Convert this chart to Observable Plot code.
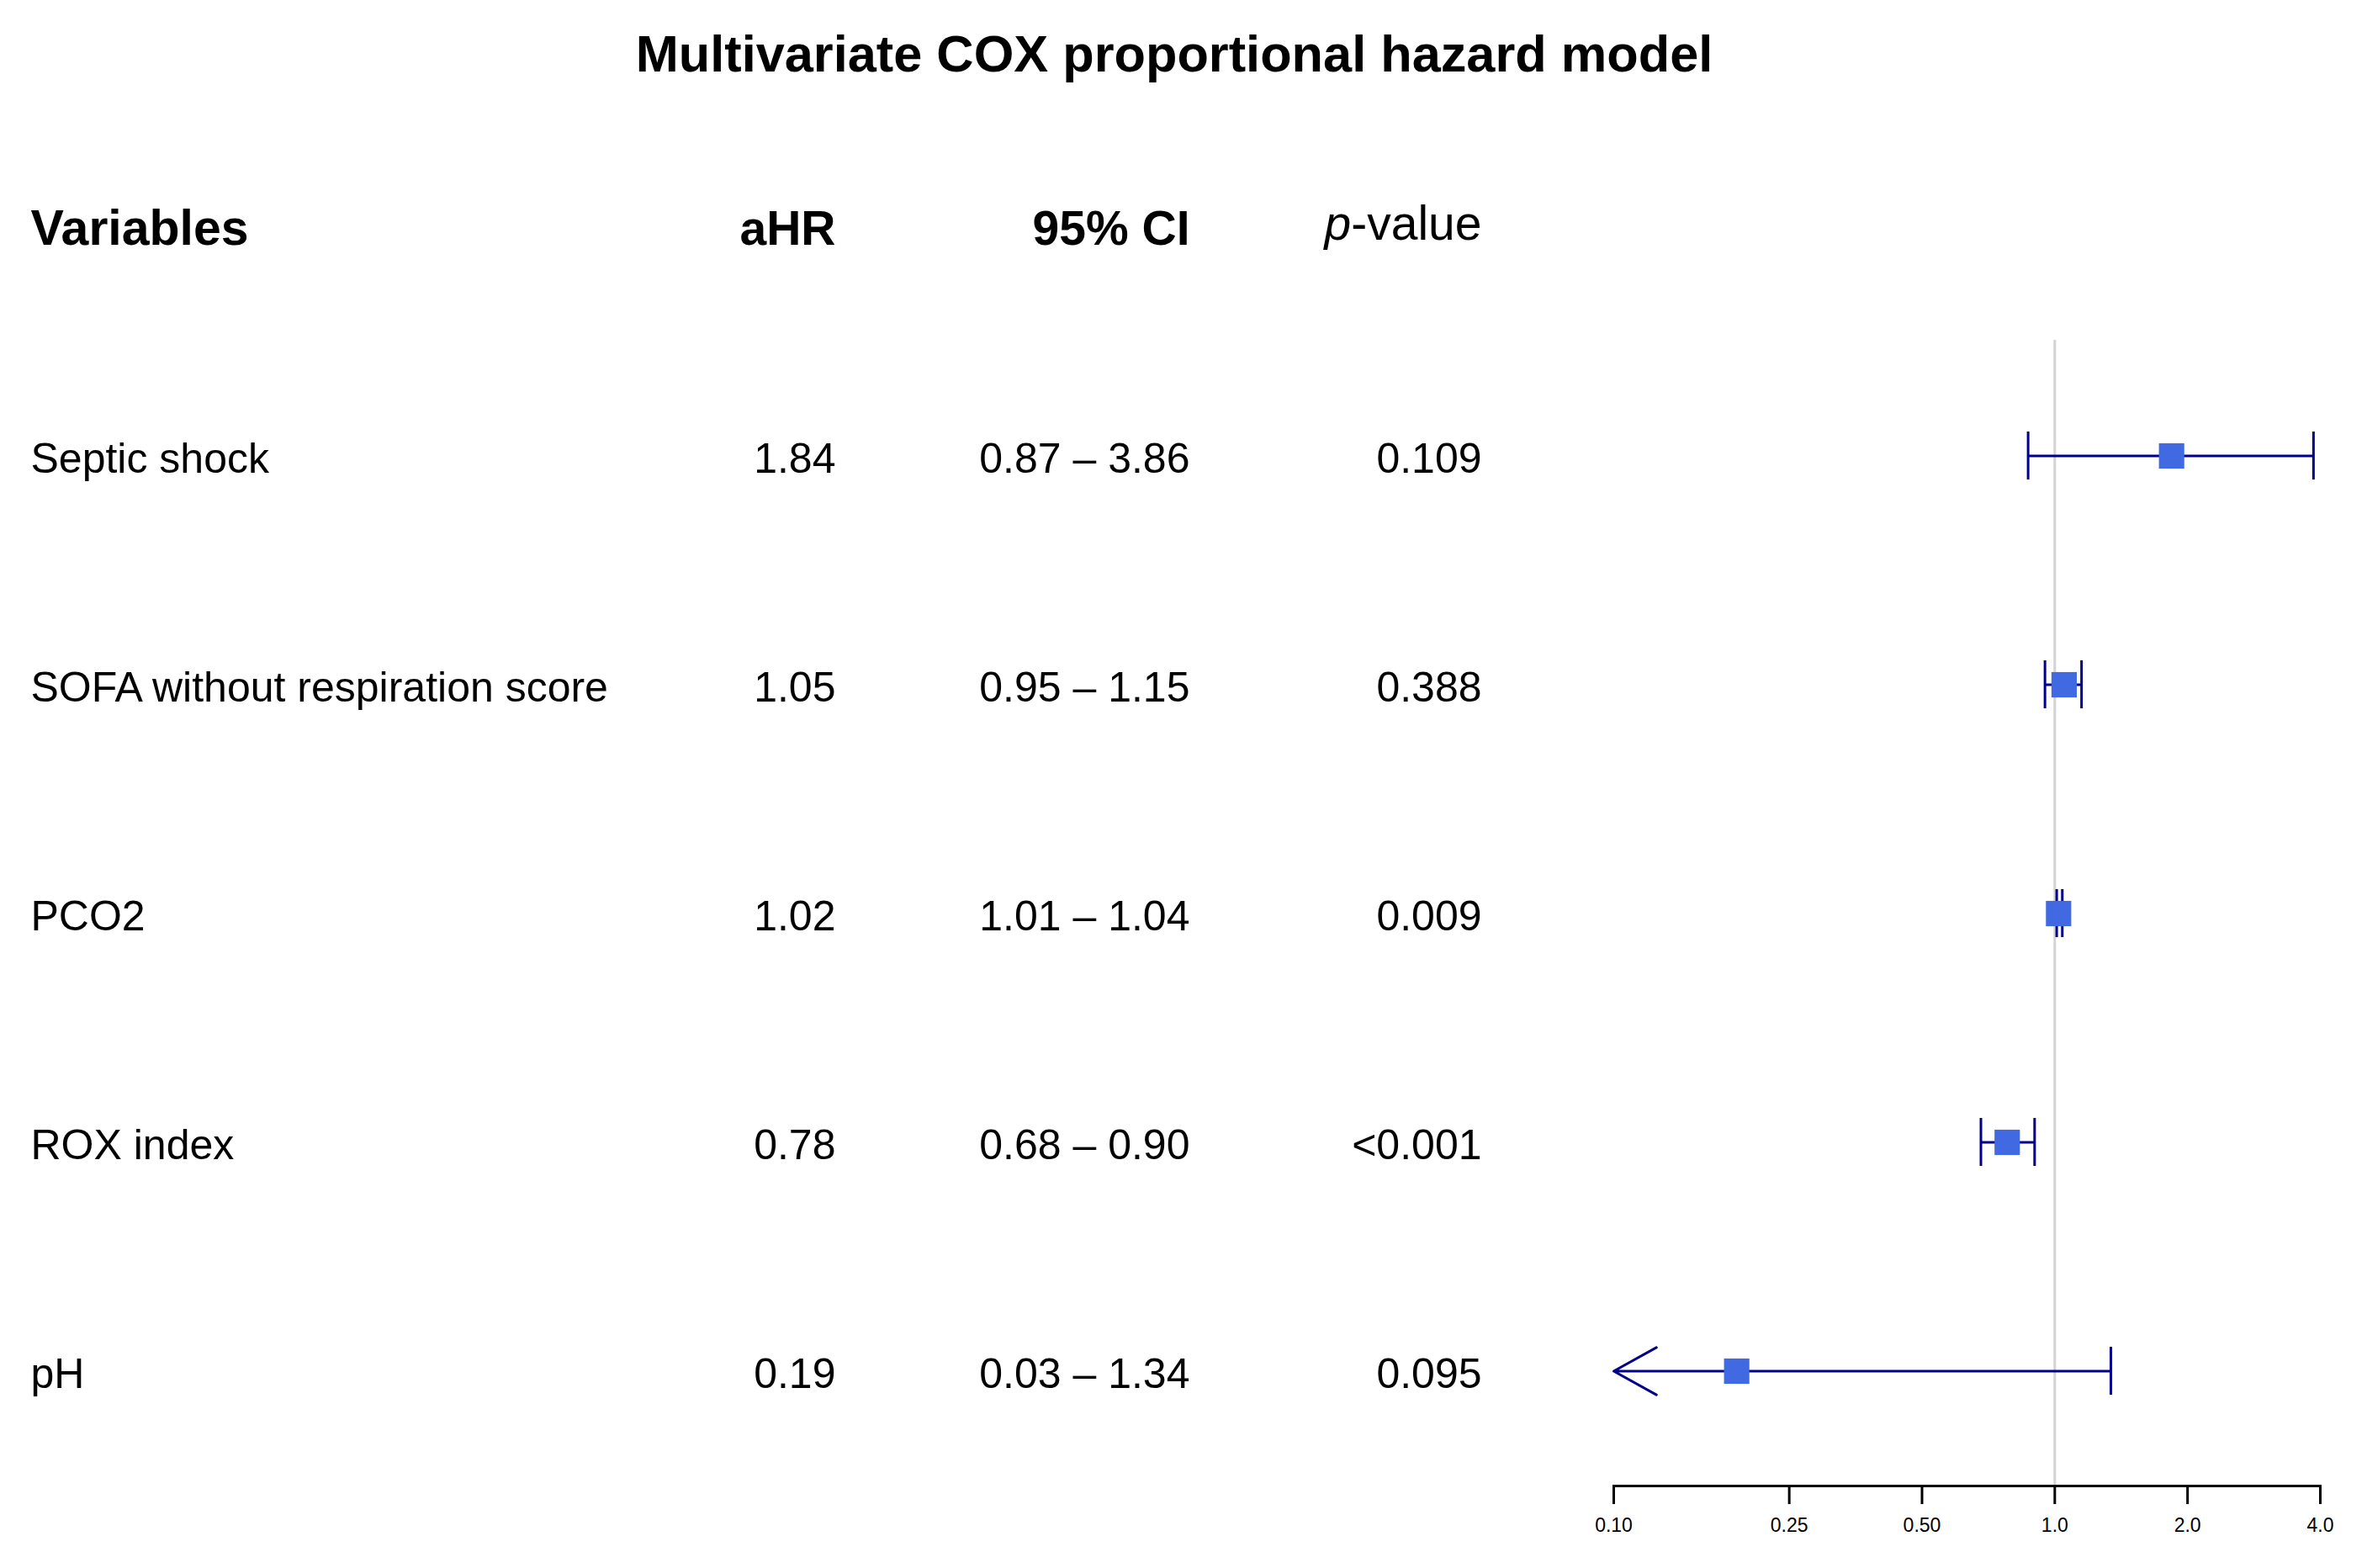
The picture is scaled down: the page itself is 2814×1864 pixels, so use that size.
<!DOCTYPE html>
<html>
<head>
<meta charset="utf-8">
<script src="https://cdn.jsdelivr.net/npm/d3@7"></script>
<script src="https://cdn.jsdelivr.net/npm/@observablehq/plot@0.6"></script>
<style>
  html, body { margin: 0; padding: 0; background: #ffffff; }
  #wrap { width: 2814px; }
  #title {
    height: 130px; line-height: 129px; text-align: center; padding-right: 22px; box-sizing: border-box;
    font-family: "Liberation Sans", Arial, sans-serif; font-weight: bold; font-size: 61.3px; color: #000;
  }
  #chart svg { display: block; }
</style>
</head>
<body>
<div id="wrap">
  <div id="title">Multivariate COX proportional hazard model</div>
  <div id="chart"></div>
</div>
<script>
// ---- data ----
const variables = ["Septic shock", "SOFA without respiration score", "PCO2", "ROX index", "pH"];
const ahr = [1.84, 1.05, 1.02, 0.78, 0.19];
const ciLow = [0.87, 0.95, 1.01, 0.68, 0.03];
const ciHigh = [3.86, 1.15, 1.04, 0.90, 1.34];
const pValues = ["0.109", "0.388", "0.009", "<0.001", "0.095"];
const headers = ["Variables", "aHR", "95% CI", "p-value"];
const tickValues = [0.1, 0.25, 0.5, 1, 2, 4];
const tickLabels = ["0.10", "0.25", "0.50", "1.0", "2.0", "4.0"];
const xDomain = [0.1, 4];

// ---- table built from arrays ----
const rows = variables.map((v, i) => ({
  variable: v, hr: ahr[i], lo: ciLow[i], hi: ciHigh[i], p: pValues[i]
}));
const fmt = d3.format(".2f");
const xMin = xDomain[0];

// ---- layout (pixels) ----
const W = 2814, H = 1734;
const mLeft = 1918, mRight = 56, mTop = 274, mBottom = 98;
const colVar = 36 - mLeft, colHR = 993 - mLeft, colCI = 1414 - mLeft, colP = 1761 - mLeft;
const rowFont = 50, headFont = 57;
const dark = "#00008B", box = "#4169E1";

const chart = Plot.plot({
  width: W, height: H,
  marginLeft: mLeft, marginRight: mRight, marginTop: mTop, marginBottom: mBottom,
  style: {fontFamily: "'Liberation Sans', Arial, sans-serif", background: "#ffffff", color: "#000", overflow: "visible"},
  x: {type: "log", domain: xDomain, axis: null},
  y: {type: "band", domain: variables, paddingInner: 0.791, paddingOuter: 0.3954, align: 0.5, axis: null},
  marks: [
    // reference line at HR = 1
    Plot.ruleX([1], {stroke: "#d3d3d3", strokeWidth: 3}),
    // axis line + ticks
    Plot.frame({anchor: "bottom", stroke: "#000", strokeWidth: 3}),
    Plot.axisX({
      ticks: tickValues, tickFormat: (d) => tickLabels[tickValues.indexOf(d)],
      tickSize: 22, tickPadding: 16, fontSize: 23, strokeWidth: 3, label: null
    }),
    // CI lines (within domain)
    Plot.ruleY(rows, {filter: (d) => d.lo >= xMin, y: "variable", x1: "lo", x2: "hi", stroke: dark, strokeWidth: 3}),
    // CI truncated by axis: arrow
    Plot.arrow(rows, {filter: (d) => d.lo < xMin, y1: "variable", y2: "variable", x1: "hi", x2: (d) => Math.max(d.lo, xMin),
      stroke: dark, strokeWidth: 3, headLength: 29, headAngle: 58}),
    // caps
    Plot.tickX(rows, {filter: (d) => d.lo >= xMin, x: "lo", y: "variable", stroke: dark, strokeWidth: 3}),
    Plot.tickX(rows, {x: "hi", y: "variable", stroke: dark, strokeWidth: 3}),
    // point estimate boxes
    Plot.dot(rows, {x: "hr", y: "variable", symbol: "square", r: 17, fill: box, stroke: null}),
    // table columns
    Plot.text(rows, {y: "variable", text: "variable", frameAnchor: "left", textAnchor: "start", lineAnchor: "middle", dx: colVar, dy: 4, fontSize: rowFont, fill: "#000"}),
    Plot.text(rows, {y: "variable", text: (d) => fmt(d.hr), frameAnchor: "left", textAnchor: "end", lineAnchor: "middle", dx: colHR, dy: 4, fontSize: rowFont, fill: "#000"}),
    Plot.text(rows, {y: "variable", text: (d) => `${fmt(d.lo)} \u2013 ${fmt(d.hi)}`, frameAnchor: "left", textAnchor: "end", lineAnchor: "middle", dx: colCI, dy: 4, fontSize: rowFont, fill: "#000"}),
    Plot.text(rows, {y: "variable", text: "p", frameAnchor: "left", textAnchor: "end", lineAnchor: "middle", dx: colP, dy: 4, fontSize: rowFont, fill: "#000"}),
    // headers
    Plot.text([headers[0]], {text: (d) => d, frameAnchor: "top-left", textAnchor: "start", lineAnchor: "middle", dx: colVar, dy: -132, fontSize: 59, fontWeight: "bold", fill: "#000"}),
    Plot.text([headers[1]], {text: (d) => d, frameAnchor: "top-left", textAnchor: "end", lineAnchor: "middle", dx: colHR, dy: -132, fontSize: headFont, fontWeight: "bold", fill: "#000"}),
    Plot.text([headers[2]], {text: (d) => d, frameAnchor: "top-left", textAnchor: "end", lineAnchor: "middle", dx: colCI, dy: -132, fontSize: headFont, fontWeight: "bold", fill: "#000"}),
    Plot.text([headers[3]], {text: (d) => d, frameAnchor: "top-left", textAnchor: "end", lineAnchor: "middle", dx: colP, dy: -138, fontSize: headFont, fontWeight: "normal", fill: "#000"})
  ]
});

document.getElementById("chart").appendChild(chart);

// italic "p" in the p-value header
chart.querySelectorAll("text").forEach((t) => {
  if (t.textContent === "p-value") {
    t.textContent = "";
    const ns = "http://www.w3.org/2000/svg";
    const a = document.createElementNS(ns, "tspan");
    a.setAttribute("font-style", "italic");
    a.textContent = "p";
    const b = document.createElementNS(ns, "tspan");
    b.textContent = "-value";
    t.appendChild(a); t.appendChild(b);
  }
});
</script>
</body>
</html>
